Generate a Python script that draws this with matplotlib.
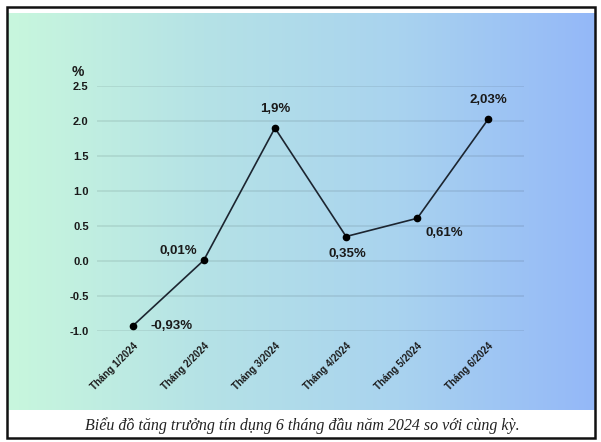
import matplotlib.pyplot as plt
import numpy as np
from matplotlib.colors import LinearSegmentedColormap
from matplotlib.patches import Rectangle

months = ["Tháng 1/2024", "Tháng 2/2024", "Tháng 3/2024",
          "Tháng 4/2024", "Tháng 5/2024", "Tháng 6/2024"]
growth = [-0.93, 0.01, 1.9, 0.35, 0.61, 2.03]
point_labels = ["-0,93%", "0,01%", "1,9%", "0,35%", "0,61%", "2,03%"]
yticks = [-1.0, -0.5, 0.0, 0.5, 1.0, 1.5, 2.0, 2.5]
caption = "Biểu đồ tăng trưởng tín dụng 6 tháng đầu năm 2024 so với cùng kỳ."

W, H = 601, 442
fig = plt.figure(figsize=(W / 100, H / 100), dpi=100)
fig.patch.set_facecolor("white")

def px(x0, y0, x1, y1):
    # pixel box (top-left origin) -> figure fraction rect
    return [x0 / W, 1 - y1 / H, (x1 - x0) / W, (y1 - y0) / H]

# gradient background
bg = fig.add_axes(px(8, 13, 595, 410))
cmap = LinearSegmentedColormap.from_list(
    "bg", ["#c8f7dd", "#b5e2e6", "#a9d3ef", "#94b8f8"])
bg.imshow(np.linspace(0, 1, 256)[None, :], aspect="auto", cmap=cmap,
          extent=[0, 1, 0, 1])
bg.set_axis_off()

# outer frame + caption
frame = fig.add_axes([0, 0, 1, 1])
frame.set_axis_off()
frame.set_xlim(0, W)
frame.set_ylim(H, 0)
frame.add_patch(Rectangle((7, 7), 588, 431, fill=False, edgecolor="#111111",
                          linewidth=1.8))
frame.text(W / 2 + 2, 426, caption, ha="center", va="center", fontsize=11.5,
           family="Liberation Serif", style="italic", color="#222222")

ax = fig.add_axes(px(97, 86, 524, 331))
ax.patch.set_alpha(0)
x = np.arange(len(months))
ax.plot(x, growth, color="#1c2530", linewidth=1.2, marker="o",
        markersize=4.5, markerfacecolor="black", markeredgecolor="black",
        zorder=3)

offsets = [(13, 0, "left", "center"), (-5, 7, "right", "center"),
           (0, 9, "center", "bottom"), (1, -8, "center", "top"),
           (6, -6, "left", "top"), (0, 9, "center", "bottom")]
for xi, yi, lab, (dx, dy, ha, va) in zip(x, growth, point_labels, offsets):
    ax.annotate(lab, (xi, yi), xytext=(dx, dy), textcoords="offset points",
                ha=ha, va=va, fontsize=9.5, fontweight="bold",
                family="Liberation Sans", color="#1a1a1a")

ax.set_xlim(-0.5, 5.5)
ax.set_ylim(-1.0, 2.5)
ax.set_yticks(yticks)
ax.set_yticklabels([f"{v:.1f}" for v in yticks], fontsize=8,
                   fontweight="bold", family="Liberation Sans",
                   color="#1a1a1a")
ax.set_xticks(x)
ax.set_xticklabels(months, rotation=45, ha="right", rotation_mode="anchor",
                   fontsize=7, fontweight="bold", family="Liberation Sans",
                   color="#1a1a1a")
ax.tick_params(length=0, axis="y", pad=6)
ax.tick_params(length=0, axis="x", pad=7)
ax.yaxis.grid(True, color="#000000", alpha=0.09, linewidth=1.2)
for s in ax.spines.values():
    s.set_visible(False)

ax.text(-0.03, 1.028, "%", transform=ax.transAxes, fontsize=10,
        fontweight="bold", family="Liberation Sans", color="#1a1a1a",
        ha="right", va="bottom")

fig.savefig("out.png", dpi=100)
